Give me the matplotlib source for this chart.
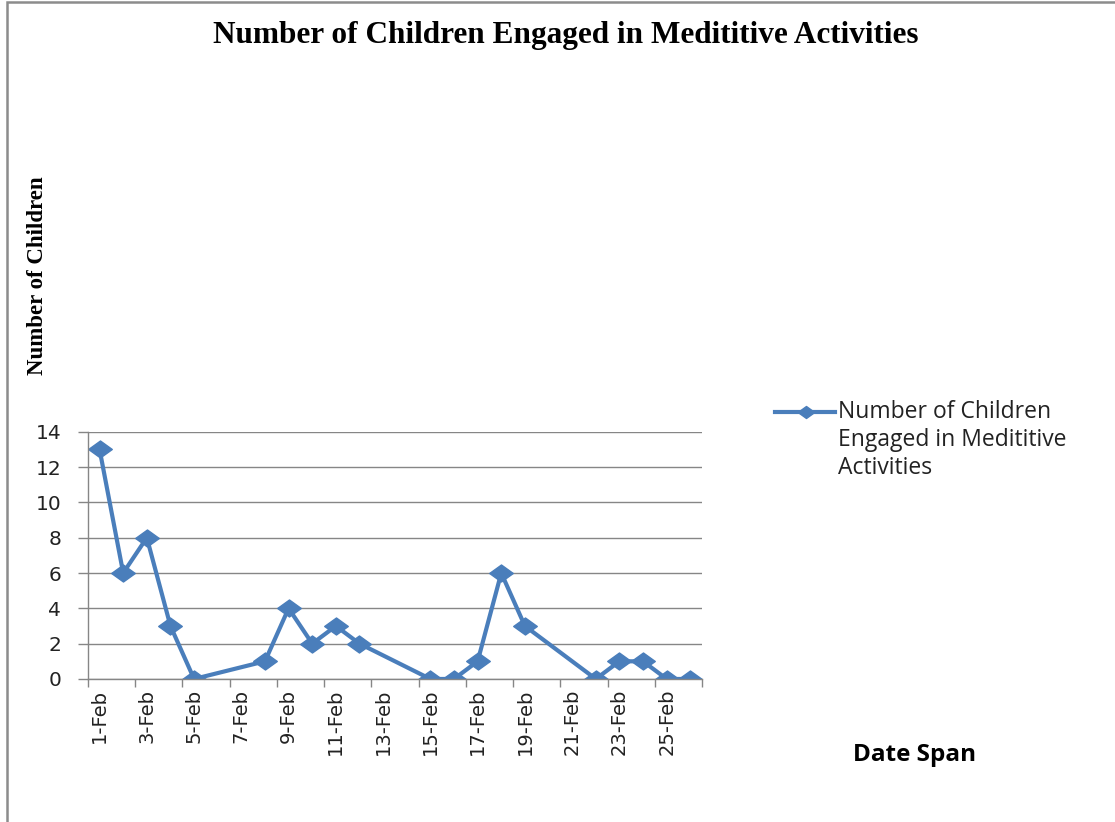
import matplotlib
matplotlib.use('Agg')
import matplotlib.pyplot as plt
from matplotlib.path import Path
from matplotlib.patches import Rectangle
from matplotlib.lines import Line2D

# days of February with a recorded value
days = [1, 2, 3, 4, 5, 8, 9, 10, 11, 12, 15, 16, 17, 18, 19, 22, 23, 24, 25, 26]
children = [13, 6, 8, 3, 0, 1, 4, 2, 3, 2, 0, 0, 1, 6, 3, 0, 1, 1, 0, 0]
label_days = list(range(1, 26, 2))
tick_labels = ['%d-Feb' % d for d in label_days]
y_ticks = [0, 2, 4, 6, 8, 10, 12, 14]

title = 'Number of Children Engaged in Medititive Activities'
series_name = 'Number of Children\nEngaged in Medititive\nActivities'
blue = '#4A7EBB'
grey = '#868686'

# slightly wide diamond like the reference
diamond = Path([(-1.0, 0.0), (0.0, 0.72), (1.0, 0.0), (0.0, -0.72), (-1.0, 0.0)],
               [Path.MOVETO, Path.LINETO, Path.LINETO, Path.LINETO, Path.CLOSEPOLY])

fig = plt.figure(figsize=(11.15, 8.22), dpi=100)
ax = fig.add_axes([0.0787, 0.174, 0.551, 0.3008])

ax.plot(days, children, color=blue, linewidth=3, marker=diamond,
        markersize=17, markerfacecolor=blue, markeredgecolor=blue)

ax.set_xlim(0.5, 26.5)
ax.set_ylim(0, 14)
ax.set_yticks(y_ticks)
ax.set_yticklabels([str(v) for v in y_ticks], fontsize=14.5, family=['DejaVu Sans'],
                   color='#222222')
ax.tick_params(axis='y', length=7, width=1, color=grey, pad=12)

ax.set_xticks(label_days)
ax.set_xticklabels(tick_labels, rotation=90, fontsize=14,
                   family=['Liberation Sans Narrow', 'DejaVu Sans'], color='#222222')
ax.tick_params(axis='x', which='major', length=0, pad=7)
ax.set_xticks([d + 0.5 for d in range(0, 27, 2)], minor=True)
ax.tick_params(axis='x', which='minor', length=6, width=1, color=grey)

ax.grid(axis='y', color=grey, linewidth=1)
ax.set_axisbelow(True)
for s in ['top', 'right']:
    ax.spines[s].set_visible(False)
for s in ['left', 'bottom']:
    ax.spines[s].set_color(grey)
    ax.spines[s].set_linewidth(1)

fig.text(0.507, 0.957, title, ha='center', va='center', fontsize=22.5,
         fontweight='bold', family=['Liberation Serif'])
fig.text(0.034, 0.665, 'Number of Children', rotation=90, ha='center', va='center',
         fontsize=16.5, fontweight='bold', family=['Liberation Serif'])
fig.text(0.82, 0.081, 'Date Span', ha='center', va='center', fontsize=17.5,
         fontweight='bold', family=['Open Sans', 'DejaVu Sans'])

# legend: key at the first text line, like the reference
fig.add_artist(Line2D([0.695, 0.749], [0.499, 0.499], transform=fig.transFigure,
                      color=blue, linewidth=3))
fig.add_artist(Line2D([0.7225], [0.499], transform=fig.transFigure, color=blue,
                      marker=diamond, markersize=12, linestyle='none'))
fig.text(0.752, 0.513, series_name, ha='left', va='top', fontsize=16.5,
         linespacing=1.2, family=['Open Sans', 'DejaVu Sans'], color='#222222')

# outer chart border (right and bottom fall outside the image)
fig.patches.append(Rectangle((0.0065, -0.1), 1.2, 1.097, transform=fig.transFigure,
                             fill=False, edgecolor='#8c8c8c', linewidth=1.8))

fig.savefig('out.png', dpi=100)
